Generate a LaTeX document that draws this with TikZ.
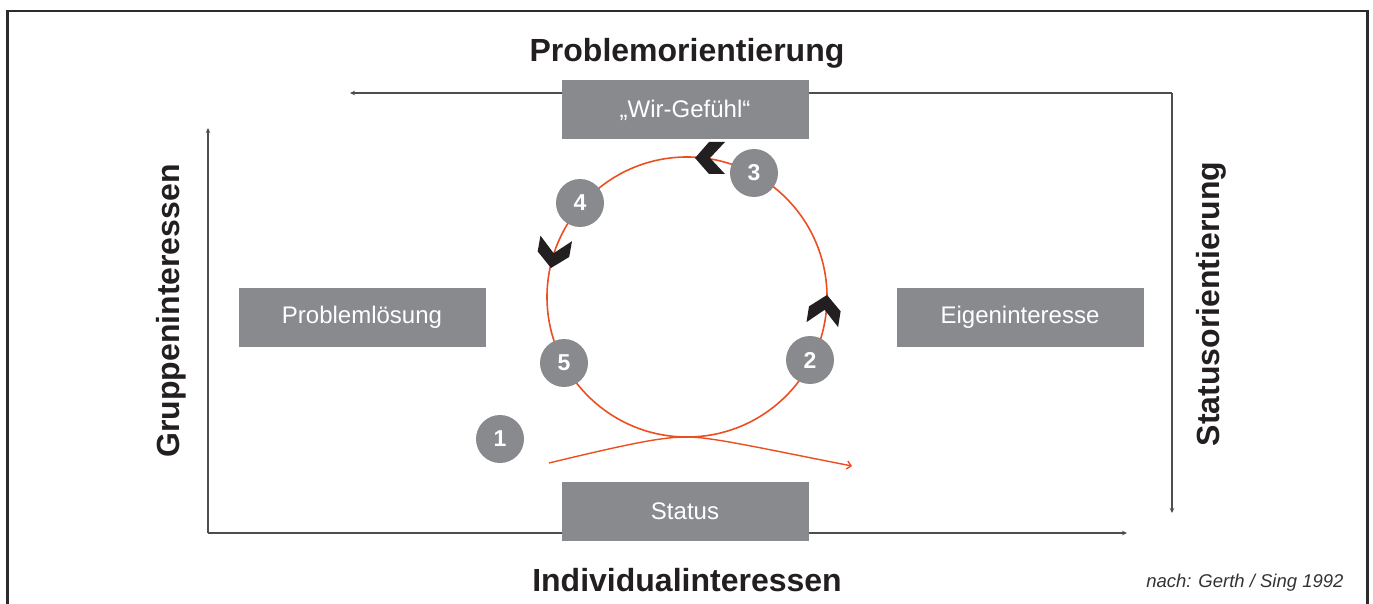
\documentclass[tikz,border=0pt]{standalone}
\usepackage{fontspec}
\setmainfont{Liberation Sans}
\usetikzlibrary{arrows.meta}
\definecolor{boxgray}{HTML}{898A8D}
\definecolor{ink}{HTML}{231F20}
\definecolor{axisgray}{HTML}{4D4D4F}
\definecolor{framegray}{HTML}{2B2B2B}
\definecolor{cycorange}{HTML}{EC4E20}
\definecolor{srcgray}{HTML}{333333}
\begin{document}
\begin{tikzpicture}[x=1pt,y=-1pt,
  box/.style={fill=boxgray, minimum width=247pt, minimum height=59pt, inner sep=0pt, text=white, font=\fontsize{24}{28}\selectfont},
  badge/.style={circle, fill=boxgray, minimum size=48pt, inner sep=0pt, text=white, font=\bfseries\fontsize{23}{26}\selectfont},
  heading/.style={font=\bfseries\fontsize{32}{36}\selectfont, text=ink},
  axisline/.style={draw=axisgray, line width=1.2pt, -{Stealth[length=5pt,width=4.5pt]}},
  cycline/.style={draw=cycorange, line width=1.6pt},
  chev/.pic={\fill[ink] (0,0) -- (-14,-16) -- (-30,-16) -- (-15,0) -- (-30,16) -- (-14,16) -- cycle;}
]
\useasboundingbox (0,0) rectangle (1373,604);
\begin{scope}
  \clip (0,0) rectangle (1373,604);
  \draw[framegray, line width=2.6pt] (7.2,11) rectangle (1367.5,650);
\end{scope}

% axes
\coordinate (o) at (208,533);
\coordinate (yt) at (208,128);
\coordinate (xr) at (1127,533);
\coordinate (tr) at (1172,93);
\coordinate (tl) at (350,93);
\coordinate (rb) at (1172,513);
\draw[axisline] (o) -- (yt);
\draw[axisline] (o) -- (xr);
\draw[axisline] (tr) -- (tl);
\draw[axisline] (tr) -- (rb);

% boxes
\node[box] (wir) at (685,110) {„Wir-Gefühl“};
\node[box] (loes) at (362,317) {Problemlösung};
\node[box] (eigen) at (1020,317) {Eigeninteresse};
\node[box] (status) at (685,511) {Status};

% headings
\node[heading, anchor=base] (ptitle) at (687,62) {Problemorientierung};
\node[heading, anchor=base] (ititle) at (687,591) {Individualinteressen};
\node[heading, rotate=90, anchor=base] (gtitle) at (179,311) {Gruppeninteressen};
\node[heading, rotate=90, anchor=base] (stitle) at (1219,304) {Statusorientierung};
\node[anchor=base east, font=\itshape\fontsize{18.5}{22}\selectfont, text=srcgray] (src) at (1347,587) {nach: Gerth / Sing 1992};

% cycle
\coordinate (c) at (687,297);
\draw[cycline] (c) circle[radius=140pt];
\coordinate (xs) at (549,463);
\coordinate (xt) at (687,437);
\coordinate (xe) at (852,466);
\draw[cycline, line width=1.4pt, -{Straight Barb[length=4pt,width=8pt]}] (xs) .. controls (640,441) and (665,437) .. (xt) .. controls (712,437) and (760,448) .. (xe);

% chevrons
\pic[rotate=180] at (695,158) {chev};
\pic[rotate=-100] at (551,268) {chev};
\pic[rotate=81] at (827,295) {chev};

% badges
\node[badge] (b1) at (500,439) {1};
\node[badge] (b2) at (810,360) {2};
\node[badge] (b3) at (754,173) {3};
\node[badge] (b4) at (580,203) {4};
\node[badge] (b5) at (564,363) {5};
\end{tikzpicture}
\end{document}
